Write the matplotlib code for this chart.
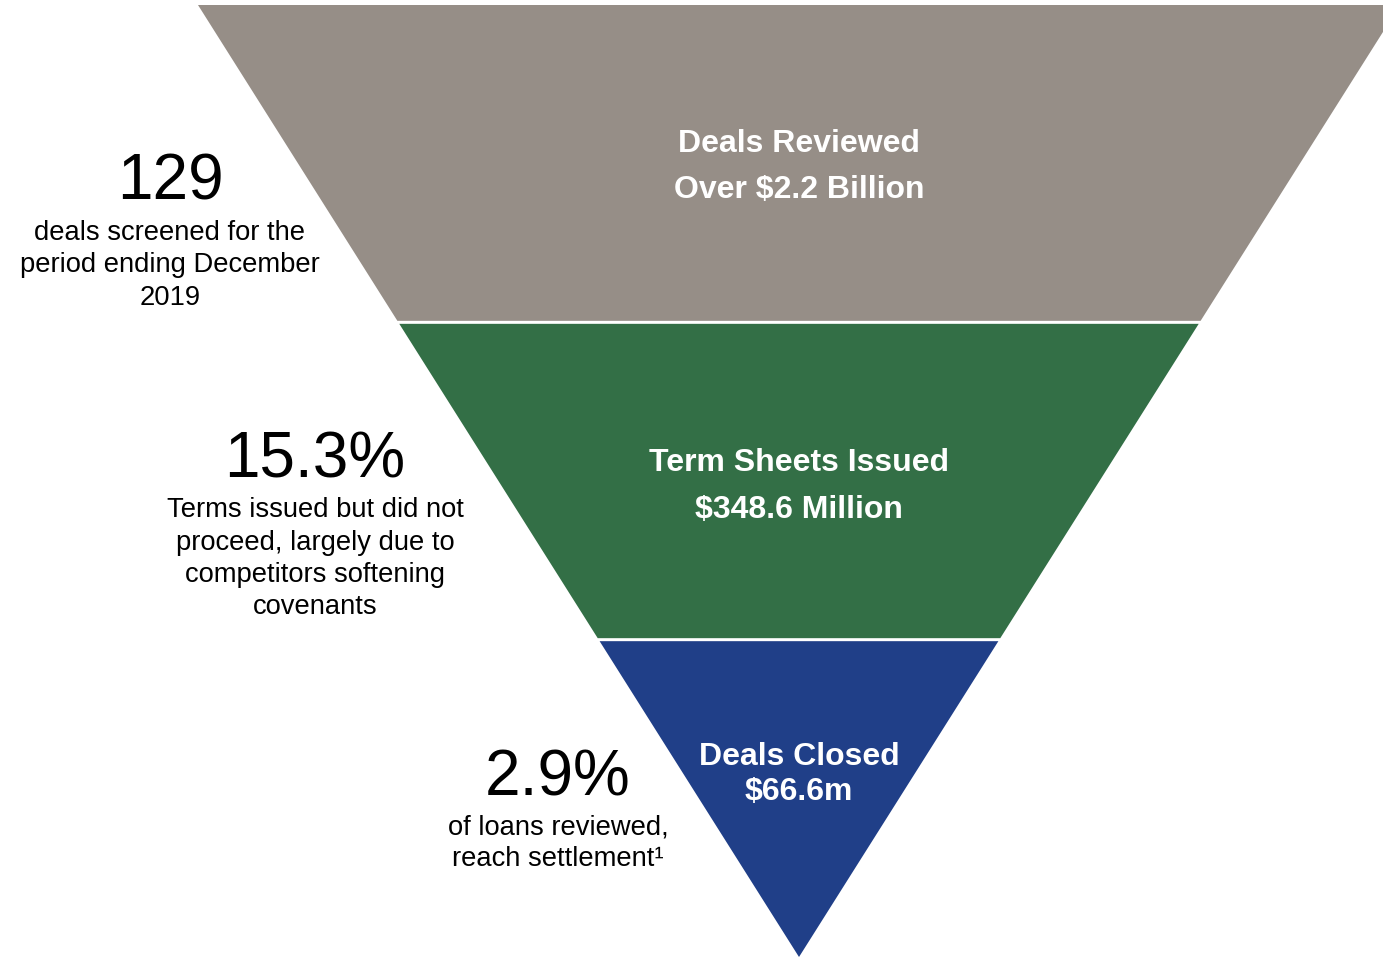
import numpy as np
import matplotlib.pyplot as plt
from matplotlib.patches import Polygon

# funnel stages, top to bottom
stages = ["Deals Reviewed", "Term Sheets Issued", "Deals Closed"]
stage_values = ["Over \\$2.2 Billion", "\\$348.6 Million", "\\$66.6m"]
stage_colors = ["#968e87", "#336f46", "#203f88"]

# call-out figures on the left of each stage
stat_figures = ["129", "15.3%", "2.9%"]
stat_notes = [
    ["deals screened for the", "period ending December", "2019"],
    ["Terms issued but did not", "proceed, largely due to", "competitors softening", "covenants"],
    ["of loans reviewed,", "reach settlement\u00b9"],
]

W, H = 1383, 957
plt.rcParams['font.family'] = ['Liberation Sans', 'DejaVu Sans']

fig = plt.figure(figsize=(W / 100, H / 100), dpi=100)
ax = fig.add_axes([0, 0, 1, 1], frameon=False)
ax.set_xlim(0, W)
ax.set_ylim(H, 0)
ax.set_xticks([])
ax.set_yticks([])

# funnel geometry (pixel units)
cx, top, apex = 799, 5, 957
half_top = 601
gap = 3
n = len(stages)
band_h = (apex - top) / n


def half_width(y):
    return half_top * (apex - y) / (apex - top)


for i, (name, val, col) in enumerate(zip(stages, stage_values, stage_colors)):
    y0 = top + i * band_h + (gap / 2 if i > 0 else 0)
    y1 = top + (i + 1) * band_h - (gap / 2 if i < n - 1 else 0)
    w0, w1 = half_width(y0), half_width(y1)
    pts = [(cx - w0, y0), (cx + w0, y0), (cx + w1, y1), (cx - w1, y1)]
    ax.add_patch(Polygon(pts, closed=True, facecolor=col, edgecolor='none'))

# labels inside the funnel (baselines)
label_pos = [(152, 198), (471, 518), (765, 800)]
for (ya, yb), name, val in zip(label_pos, stages, stage_values):
    ax.text(cx, ya, name, color='white', fontsize=23, fontweight='bold',
            ha='center', va='baseline')
    ax.text(cx, yb, val, color='white', fontsize=23, fontweight='bold',
            ha='center', va='baseline')

# call-outs
stat_x = [170, 315, 558]
stat_y = [200, 478, 795]
note_y0 = [240, 517, 834]
for x, y, fig_txt, ny, lines in zip(stat_x, stat_y, stat_figures, note_y0, stat_notes):
    ax.text(x, y, fig_txt, color='black', fontsize=46, ha='center', va='baseline')
    for k, line in enumerate(lines):
        ax.text(x, ny + k * 32.5, line, color='black', fontsize=19.7,
                ha='center', va='baseline')

fig.savefig("out.png", dpi=100)
plt.close(fig)
